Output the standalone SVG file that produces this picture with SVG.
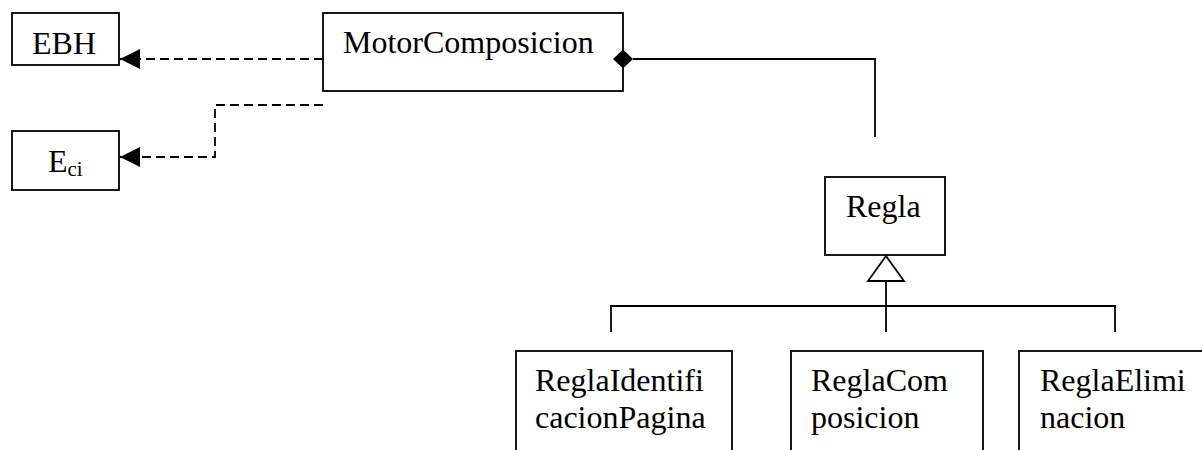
<svg xmlns="http://www.w3.org/2000/svg" width="1202" height="450" viewBox="0 0 1202 450">
  <style>
    .box { fill: #ffffff; stroke: #000000; stroke-width: 1.8; }
    .lbl { font-family: "Liberation Serif", "Times New Roman", serif; font-size: 32px; fill: #000000; }
    .sub { font-size: 21px; }
    .solid { fill: none; stroke: #000000; stroke-width: 1.8; }
    .dash { fill: none; stroke: #000000; stroke-width: 1.8; stroke-dasharray: 9 5; }
  </style>
  <defs>
    <marker id="arrowFilled" viewBox="0 0 20 20" refX="20" refY="10" markerWidth="20" markerHeight="20" markerUnits="userSpaceOnUse" orient="auto">
      <path d="M0,0 L20,10 L0,20 Z" fill="#000000"/>
    </marker>
  </defs>
  <rect width="1202" height="450" fill="#ffffff"/>

  <g id="ebh">
    <rect class="box" x="12" y="13" width="107" height="52"/>
    <text class="lbl" x="32" y="54">EBH</text>
  </g>

  <g id="eci">
    <rect class="box" x="12" y="131" width="107" height="59"/>
    <text class="lbl" x="48" y="172">E<tspan class="sub" dy="4">ci</tspan></text>
  </g>

  <g id="motor-composicion">
    <rect class="box" x="323" y="13" width="300" height="78"/>
    <text class="lbl" x="343" y="53">MotorComposicion</text>
  </g>

  <g id="regla">
    <rect class="box" x="825" y="177" width="120" height="78"/>
    <text class="lbl" x="846" y="217">Regla</text>
  </g>

  <g id="regla-identificacion-pagina">
    <rect class="box" x="516" y="351" width="216" height="120"/>
    <text class="lbl" x="535" y="391">ReglaIdentifi</text>
    <text class="lbl" x="535" y="428">cacionPagina</text>
  </g>

  <g id="regla-composicion">
    <rect class="box" x="791" y="351" width="192" height="120"/>
    <text class="lbl" x="811" y="391">ReglaCom</text>
    <text class="lbl" x="811" y="428">posicion</text>
  </g>

  <g id="regla-eliminacion">
    <rect class="box" x="1019" y="351" width="200" height="120"/>
    <text class="lbl" x="1040" y="391">ReglaElimi</text>
    <text class="lbl" x="1040" y="428">nacion</text>
  </g>

  <!-- connectors, drawn over the boxes so the end symbols stay visible -->
  <g id="connectors">
    <!-- dependency MotorComposicion -> EBH -->
    <path class="dash" d="M323,59 L120,59" marker-end="url(#arrowFilled)"/>
    <!-- dependency MotorComposicion -> Eci -->
    <path class="dash" d="M323,105 L215,105 L215,157 L120,157" marker-end="url(#arrowFilled)"/>
    <!-- composition MotorComposicion <>- Regla -->
    <path class="solid" d="M633,59 L875,59 L875,137"/>
    <path d="M613,59 L623,49.5 L633,59 L623,68.5 Z" fill="#000000"/>
    <!-- generalization tree -->
    <path class="solid" d="M886,281 L886,332"/>
    <path class="solid" d="M611,332 L611,306 L1115,306 L1115,332"/>
    <path d="M886,256 L904,281 L868,281 Z" fill="#ffffff" stroke="#000000" stroke-width="1.8"/>
  </g>
</svg>
